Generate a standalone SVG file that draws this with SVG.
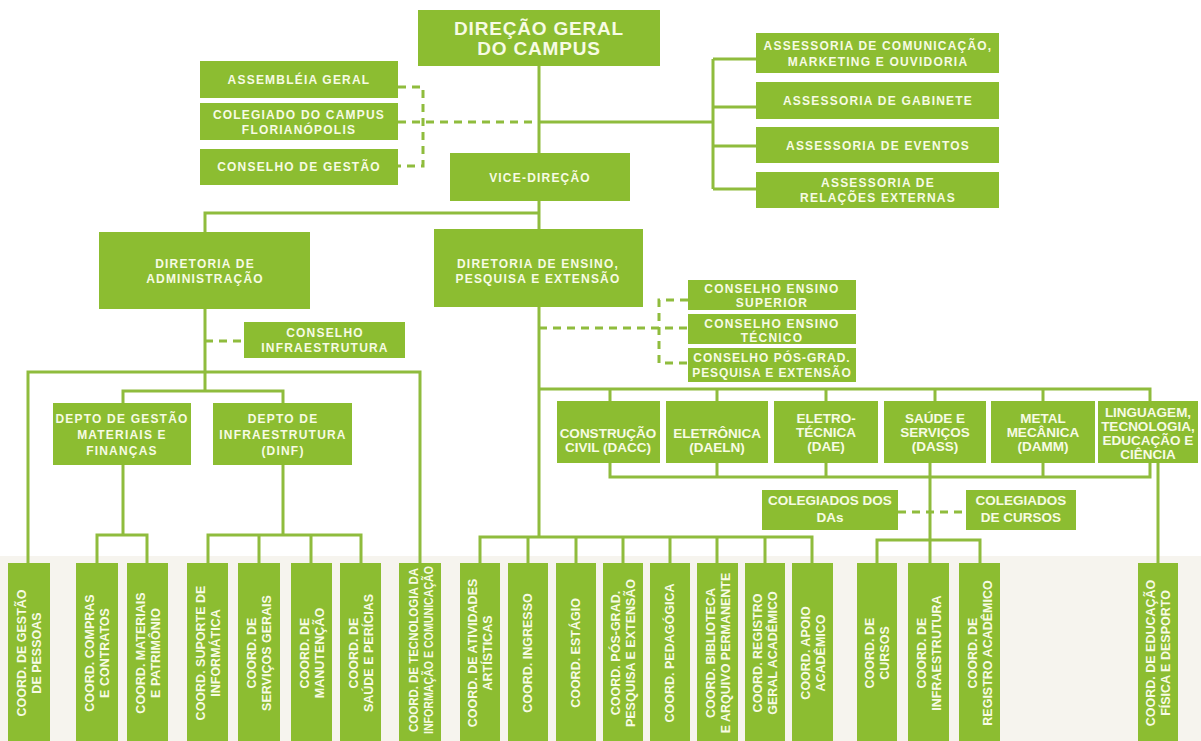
<svg xmlns="http://www.w3.org/2000/svg" width="1201" height="741" viewBox="0 0 1201 741">
<style>
.box{fill:#8cbd31}
.ln{stroke:#8fbc3d;stroke-width:3;fill:none}
.dash{stroke-dasharray:8 6}
.t{font-family:"Liberation Sans",Arial,sans-serif;font-weight:bold;font-size:12px;letter-spacing:1.2px;fill:#f7fbe4;text-anchor:middle}
.big{font-size:19px;letter-spacing:0.8px}
.d{font-size:13.5px;letter-spacing:0}
.v{font-size:12.5px;letter-spacing:0}
</style>
<rect x="0" y="0" width="1201" height="741" fill="#ffffff"/>
<rect x="0" y="556" width="1201" height="185" fill="#f6f4ee"/>
<g id="connectors">
<path class="ln" d="M539 66V153M539 122H713M713 59V189M713 59H756M713 107H756M713 146H756M713 189H756"/>
<path class="ln dash" d="M398 122H539M398 87H423V166H398"/>
<path class="ln" d="M539 201V229M539 213H205V232"/>
<path class="ln" d="M205 309V391M28 563V372H420V563M123 403V391H283V403"/>
<path class="ln dash" d="M205 341H244"/>
<path class="ln" d="M123 465V535M97 563V535H147V563M283 465V535M208 563V535H361V563M259 535V563M311 535V563"/>
<path class="ln" d="M539 307V537M480 563V537H812V563M528 537V563M576 537V563M623 537V563M670 537V563M717 537V563M765 537V563"/>
<path class="ln dash" d="M539 328H688M688 300H659V363H688"/>
<path class="ln" d="M539 389H1150V401M610 389V401M717 389V401M826 389V401M935 389V401M1043 389V401"/>
<path class="ln" d="M610 463V477H1150V463M717 463V477M826 463V477M1043 463V477M930 463V563M877 563V540H980V563M1158 463V563"/>
<path class="ln dash" d="M898 512H966"/>
</g>
<g id="dg"><rect class="box" x="418" y="10" width="242" height="56"/><text class="t big" x="539" y="35">DIREÇÃO GERAL</text><text class="t big" x="539" y="55">DO CAMPUS</text></g>
<g id="assembleia"><rect class="box" x="200" y="61" width="198" height="37"/><text class="t" x="299" y="84">ASSEMBLÉIA GERAL</text></g>
<g id="colegiado"><rect class="box" x="200" y="103" width="198" height="37"/><text class="t" x="299" y="119">COLEGIADO DO CAMPUS</text><text class="t" x="299" y="134">FLORIANÓPOLIS</text></g>
<g id="cgestao"><rect class="box" x="200" y="149" width="198" height="36"/><text class="t" x="299" y="171">CONSELHO DE GESTÃO</text></g>
<g id="vice"><rect class="box" x="450" y="153" width="180" height="48"/><text class="t" x="540" y="182">VICE-DIREÇÃO</text></g>
<g id="as1"><rect class="box" x="756" y="33" width="243" height="40"/><text class="t" x="878" y="50">ASSESSORIA DE COMUNICAÇÃO,</text><text class="t" x="878" y="66">MARKETING E OUVIDORIA</text></g>
<g id="as2"><rect class="box" x="756" y="82" width="243" height="37"/><text class="t" x="878" y="105">ASSESSORIA DE GABINETE</text></g>
<g id="as3"><rect class="box" x="756" y="127" width="243" height="36"/><text class="t" x="878" y="150">ASSESSORIA DE EVENTOS</text></g>
<g id="as4"><rect class="box" x="756" y="172" width="243" height="36"/><text class="t" x="878" y="187">ASSESSORIA DE</text><text class="t" x="878" y="202">RELAÇÕES EXTERNAS</text></g>
<g id="diradm"><rect class="box" x="99" y="232" width="211" height="77"/><text class="t" x="205" y="268">DIRETORIA DE</text><text class="t" x="205" y="283">ADMINISTRAÇÃO</text></g>
<g id="dirensino"><rect class="box" x="434" y="229" width="209" height="78"/><text class="t" x="538" y="268">DIRETORIA DE ENSINO,</text><text class="t" x="538" y="283">PESQUISA E EXTENSÃO</text></g>
<g id="cinfra"><rect class="box" x="244" y="322" width="161" height="36"/><text class="t" x="325" y="337">CONSELHO</text><text class="t" x="325" y="352">INFRAESTRUTURA</text></g>
<g id="ces"><rect class="box" x="688" y="280" width="168" height="30"/><text class="t" x="772" y="293">CONSELHO ENSINO</text><text class="t" x="772" y="307">SUPERIOR</text></g>
<g id="cet"><rect class="box" x="688" y="314" width="168" height="30"/><text class="t" x="772" y="328">CONSELHO ENSINO</text><text class="t" x="772" y="342">TÉCNICO</text></g>
<g id="cpg"><rect class="box" x="688" y="348" width="168" height="34"/><text class="t" x="772" y="362" style="letter-spacing:1px">CONSELHO PÓS-GRAD.</text><text class="t" x="772" y="377" style="letter-spacing:0.9px">PESQUISA E EXTENSÃO</text></g>
<g id="depto1"><rect class="box" x="53" y="403" width="138" height="62"/><text class="t" x="122" y="423">DEPTO DE GESTÃO</text><text class="t" x="122" y="439">MATERIAIS E</text><text class="t" x="122" y="455">FINANÇAS</text></g>
<g id="depto2"><rect class="box" x="213" y="403" width="139" height="62"/><text class="t" x="283" y="423">DEPTO DE</text><text class="t" x="283" y="439">INFRAESTRUTURA</text><text class="t" x="283" y="455">(DINF)</text></g>
<g id="dacc"><rect class="box" x="557" y="401" width="103" height="62"/><text class="t d" x="608" y="438">CONSTRUÇÃO</text><text class="t d" x="608" y="452">CIVIL (DACC)</text></g>
<g id="daeln"><rect class="box" x="666" y="401" width="102" height="62"/><text class="t d" x="717" y="438">ELETRÔNICA</text><text class="t d" x="717" y="452">(DAELN)</text></g>
<g id="dae"><rect class="box" x="774" y="401" width="104" height="62"/><text class="t d" x="826" y="423">ELETRO-</text><text class="t d" x="826" y="437">TÉCNICA</text><text class="t d" x="826" y="451">(DAE)</text></g>
<g id="dass"><rect class="box" x="884" y="401" width="102" height="62"/><text class="t d" x="935" y="423">SAÚDE E</text><text class="t d" x="935" y="437">SERVIÇOS</text><text class="t d" x="935" y="451">(DASS)</text></g>
<g id="damm"><rect class="box" x="991" y="401" width="104" height="62"/><text class="t d" x="1043" y="423">METAL</text><text class="t d" x="1043" y="437">MECÂNICA</text><text class="t d" x="1043" y="451">(DAMM)</text></g>
<g id="dalt"><rect class="box" x="1098" y="401" width="100" height="62"/><text class="t d" x="1148" y="417">LINGUAGEM,</text><text class="t d" x="1148" y="431">TECNOLOGIA,</text><text class="t d" x="1148" y="445">EDUCAÇÃO E</text><text class="t d" x="1148" y="459">CIÊNCIA</text></g>
<g id="coldas"><rect class="box" x="762" y="490" width="136" height="40"/><text class="t d" x="830" y="505">COLEGIADOS DOS</text><text class="t d" x="830" y="522">DAs</text></g>
<g id="colcursos"><rect class="box" x="966" y="490" width="110" height="40"/><text class="t d" x="1021" y="505">COLEGIADOS</text><text class="t d" x="1021" y="522">DE CURSOS</text></g>
<g id="c1"><rect class="box" x="8" y="563" width="42" height="178"/><text class="t v" transform="translate(26,653) rotate(-90)">COORD. DE GESTÃO</text><text class="t v" transform="translate(41,653) rotate(-90)">DE PESSOAS</text></g>
<g id="c2"><rect class="box" x="76" y="563" width="42" height="178"/><text class="t v" transform="translate(94,653) rotate(-90)">COORD. COMPRAS</text><text class="t v" transform="translate(109,653) rotate(-90)">E CONTRATOS</text></g>
<g id="c3"><rect class="box" x="127" y="563" width="41" height="178"/><text class="t v" transform="translate(145,653) rotate(-90)">COORD. MATERIAIS</text><text class="t v" transform="translate(160,653) rotate(-90)">E PATRIMÔNIO</text></g>
<g id="c4"><rect class="box" x="187" y="563" width="41" height="178"/><text class="t v" transform="translate(205,653) rotate(-90)">COORD. SUPORTE DE</text><text class="t v" transform="translate(220,653) rotate(-90)">INFORMÁTICA</text></g>
<g id="c5"><rect class="box" x="238" y="563" width="42" height="178"/><text class="t v" transform="translate(256,653) rotate(-90)">COORD. DE</text><text class="t v" transform="translate(271,653) rotate(-90)">SERVIÇOS GERAIS</text></g>
<g id="c6"><rect class="box" x="291" y="563" width="41" height="178"/><text class="t v" transform="translate(309,653) rotate(-90)">COORD. DE</text><text class="t v" transform="translate(324,653) rotate(-90)">MANUTENÇÃO</text></g>
<g id="c7"><rect class="box" x="340" y="563" width="41" height="178"/><text class="t v" transform="translate(358,653) rotate(-90)">COORD. DE</text><text class="t v" transform="translate(373,653) rotate(-90)">SAÚDE E PERÍCIAS</text></g>
<g id="c8"><rect class="box" x="399" y="563" width="42" height="178"/><text class="t v" transform="translate(418,650) rotate(-90)" textLength="164" lengthAdjust="spacingAndGlyphs">COORD. DE TECNOLOGIA DA</text><text class="t v" transform="translate(433,650) rotate(-90)" textLength="168" lengthAdjust="spacingAndGlyphs">INFORMAÇÃO E COMUNICAÇÃO</text></g>
<g id="c9"><rect class="box" x="460" y="563" width="40" height="178"/><text class="t v" transform="translate(477,653) rotate(-90)">COORD. DE ATIVIDADES</text><text class="t v" transform="translate(492,653) rotate(-90)">ARTÍSTICAS</text></g>
<g id="c10"><rect class="box" x="508" y="563" width="40" height="178"/><text class="t v" transform="translate(532,653) rotate(-90)">COORD. INGRESSO</text></g>
<g id="c11"><rect class="box" x="556" y="563" width="40" height="178"/><text class="t v" transform="translate(580,653) rotate(-90)">COORD. ESTÁGIO</text></g>
<g id="c12"><rect class="box" x="603" y="563" width="40" height="178"/><text class="t v" transform="translate(620,653) rotate(-90)">COORD. PÓS-GRAD.</text><text class="t v" transform="translate(635,653) rotate(-90)">PESQUISA E EXTENSÃO</text></g>
<g id="c13"><rect class="box" x="650" y="563" width="40" height="178"/><text class="t v" transform="translate(674,653) rotate(-90)">COORD. PEDAGÓGICA</text></g>
<g id="c14"><rect class="box" x="697" y="563" width="41" height="178"/><text class="t v" transform="translate(715,653) rotate(-90)">COORD. BIBLIOTECA</text><text class="t v" transform="translate(730,653) rotate(-90)">E ARQUIVO PERMANENTE</text></g>
<g id="c15"><rect class="box" x="745" y="563" width="40" height="178"/><text class="t v" transform="translate(762,653) rotate(-90)">COORD. REGISTRO</text><text class="t v" transform="translate(777,653) rotate(-90)">GERAL ACADÊMICO</text></g>
<g id="c16"><rect class="box" x="792" y="563" width="41" height="178"/><text class="t v" transform="translate(810,653) rotate(-90)">COORD. APOIO</text><text class="t v" transform="translate(825,653) rotate(-90)">ACADÊMICO</text></g>
<g id="c17"><rect class="box" x="857" y="563" width="40" height="178"/><text class="t v" transform="translate(874,653) rotate(-90)">COORD. DE</text><text class="t v" transform="translate(889,653) rotate(-90)">CURSOS</text></g>
<g id="c18"><rect class="box" x="908" y="563" width="41" height="178"/><text class="t v" transform="translate(926,653) rotate(-90)">COORD. DE</text><text class="t v" transform="translate(941,653) rotate(-90)">INFRAESTRUTURA</text></g>
<g id="c19"><rect class="box" x="959" y="563" width="41" height="178"/><text class="t v" transform="translate(977,653) rotate(-90)">COORD. DE</text><text class="t v" transform="translate(992,653) rotate(-90)">REGISTRO ACADÊMICO</text></g>
<g id="c20"><rect class="box" x="1138" y="563" width="40" height="178"/><text class="t v" transform="translate(1155,653) rotate(-90)">COORD. DE EDUCAÇÃO</text><text class="t v" transform="translate(1170,653) rotate(-90)">FÍSICA E DESPORTO</text></g>
</svg>
